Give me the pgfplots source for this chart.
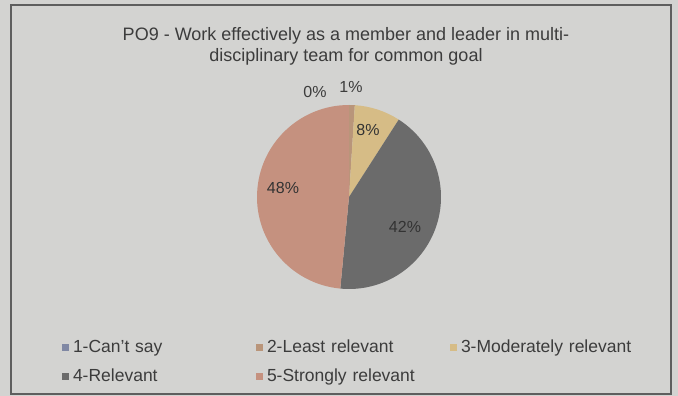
\documentclass[border=0pt]{standalone}
\usepackage{pgfplots}
\pgfplotsset{compat=1.18}
\usepackage{pgfplotstable}
\usepackage{fontspec}
\setmainfont{Liberation Sans}
\definecolor{bgc}{HTML}{D3D3D1}
\definecolor{framec}{HTML}{5E5E5E}
\definecolor{txt}{HTML}{3C3C3C}
\definecolor{c1}{HTML}{8088A4}
\definecolor{c2}{HTML}{B9957A}
\definecolor{c3}{HTML}{D6BC86}
\definecolor{c4}{HTML}{6B6B6B}
\definecolor{c5}{HTML}{C5917F}

\pgfplotstableread{
cat pct
1 0
2 1
3 8
4 42
5 48
}\piedata
\pgfplotstablegetelem{0}{pct}\of\piedata \let\pA\pgfplotsretval
\pgfplotstablegetelem{1}{pct}\of\piedata \let\pB\pgfplotsretval
\pgfplotstablegetelem{2}{pct}\of\piedata \let\pC\pgfplotsretval
\pgfplotstablegetelem{3}{pct}\of\piedata \let\pD\pgfplotsretval
\pgfplotstablegetelem{4}{pct}\of\piedata \let\pE\pgfplotsretval
\pgfmathsetmacro\tot{\pA+\pB+\pC+\pD+\pE}
\pgfmathsetmacro\aA{90}
\pgfmathsetmacro\aB{\aA-(\pA/\tot)*360}
\pgfmathsetmacro\aC{\aB-(\pB/\tot)*360}
\pgfmathsetmacro\aD{\aC-(\pC/\tot)*360}
\pgfmathsetmacro\aE{\aD-(\pD/\tot)*360}
\pgfmathsetmacro\aF{\aE-(\pE/\tot)*360}

\begin{document}
\begin{tikzpicture}
\begin{axis}[
  width=678bp, height=396bp, scale only axis,
  xmin=0, xmax=678, ymin=0, ymax=396,
  hide axis, clip=false,
  legend columns=3,
  legend image code/.code={\fill[draw=none,#1] (0bp,-3.5bp) rectangle (7bp,3.5bp);},
  legend style={at={(axis cs:62,34)}, anchor=west, draw=none, fill=none,
    inner sep=0pt, outer sep=0pt, row sep=12bp,
    font=\fontsize{17.5bp}{21bp}\selectfont, text=txt,
    nodes={inner sep=0pt, text width=183bp, align=left, text height=13bp, text depth=4bp},
    /tikz/every odd column/.append style={column sep=4bp}},
]
\fill[bgc] (axis cs:0,0) rectangle (axis cs:678,396);
\draw[framec, line width=1.2bp] (axis cs:11,2) rectangle (axis cs:671,391);
\node[align=center, text=txt, font=\fontsize{18bp}{21bp}\selectfont] at (axis cs:346,350)
  {PO9 - Work effectively as a member and leader in multi-\\disciplinary team for common goal};
% pie slices
\fill[c1] (axis cs:349,199) -- ([shift={(\aA:92bp)}]axis cs:349,199) arc[start angle=\aA, end angle=\aB, radius=92bp] -- cycle;
\fill[c2] (axis cs:349,199) -- ([shift={(\aB:92bp)}]axis cs:349,199) arc[start angle=\aB, end angle=\aC, radius=92bp] -- cycle;
\fill[c3] (axis cs:349,199) -- ([shift={(\aC:92bp)}]axis cs:349,199) arc[start angle=\aC, end angle=\aD, radius=92bp] -- cycle;
\fill[c4] (axis cs:349,199) -- ([shift={(\aD:92bp)}]axis cs:349,199) arc[start angle=\aD, end angle=\aE, radius=92bp] -- cycle;
\fill[c5] (axis cs:349,199) -- ([shift={(\aE:92bp)}]axis cs:349,199) arc[start angle=\aE, end angle=\aF, radius=92bp] -- cycle;
% labels
\begin{scope}[font=\fontsize{16bp}{19bp}\selectfont, text=txt]
\node at (axis cs:315,304) {0\%};
\node at (axis cs:351,309) {1\%};
\node[text=black!80] at (axis cs:368,266) {8\%};
\node[text=black!80] at (axis cs:283,208) {48\%};
\node[text=black!80] at (axis cs:405,169) {42\%};
\end{scope}
\addlegendimage{fill=c1}
\addlegendimage{fill=c2}
\addlegendimage{fill=c3}
\addlegendimage{fill=c4}
\addlegendimage{fill=c5}
\legend{1-Can't say, 2-Least relevant, 3-Moderately relevant, 4-Relevant, 5-Strongly relevant}
\end{axis}
\end{tikzpicture}
\end{document}
